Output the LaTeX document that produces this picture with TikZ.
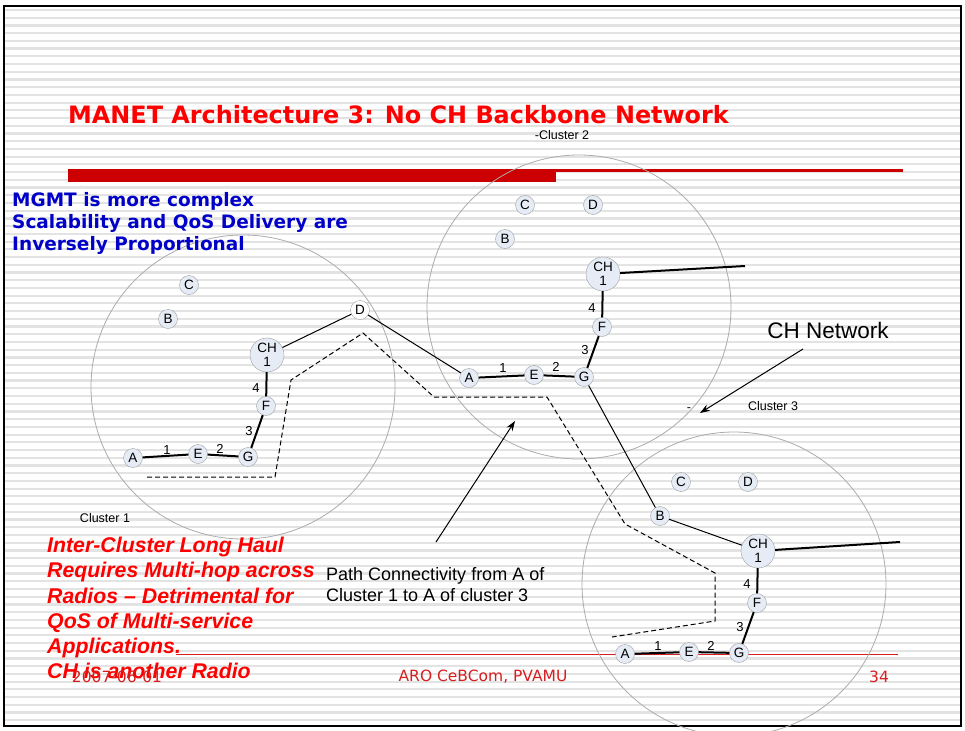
\documentclass[tikz,border=0pt]{standalone}
\usepackage{fontspec}
\setmainfont{Liberation Sans}
\newfontfamily\vfont{DejaVu Sans}
\usetikzlibrary{arrows.meta}

\definecolor{nodefill}{RGB}{230,236,246}
\definecolor{titlered}{RGB}{255,0,0}
\definecolor{barred}{RGB}{204,0,0}
\definecolor{footred}{RGB}{215,30,30}
\definecolor{mgmtblue}{RGB}{0,0,200}
\definecolor{stripe}{RGB}{227,227,227}

\tikzset{
  nd/.style={circle, draw=gray!75, fill=nodefill, inner sep=0pt, minimum size=19pt,
    font=\fontsize{13.5}{13.5}\selectfont},
  chnd/.style={nd, minimum size=34pt, align=center, font=\fontsize{13.5}{13.5}\selectfont},
  hopnum/.style={inner sep=0pt, font=\fontsize{13}{13}\selectfont},
  hop/.style={line width=2pt},
  lnk/.style={line width=1pt},
  clusline/.style={draw=gray!65, line width=0.8pt},
  small/.style={inner sep=0pt, font=\fontsize{12.5}{12.5}\selectfont},
}

\begin{document}
\begin{tikzpicture}[x=1pt, y=-1pt, >={Stealth[length=10pt, width=7pt]}]
  \useasboundingbox (0,0) rectangle (965,730);
  % --- slide background ---
  \fill[white] (0,0) rectangle (965,730);
  \foreach \s in {0,...,92}
    \draw[stripe, line width=2.2pt] (5,{10+7.72*\s}) -- (960,{10+7.72*\s});
  \draw[line width=2.5pt] (4,6) rectangle (961,726);

  % --- title and bars ---
  \node[anchor=west, inner sep=0pt, text=titlered, font=\vfont\bfseries\fontsize{23.9}{24}\selectfont]
    (title) at (68,115) {MANET Architecture 3: No CH Backbone Network};
  \fill[barred] (68,169) rectangle (556,182);
  \fill[barred] (556,169) rectangle (903,171.5);
  \node[small] (c2name) at (562,135) {-Cluster 2};

  % --- footer line ---
  \draw[footred, line width=1pt] (176,654) -- (898,654);

  % --- clusters ---
  \draw[clusline] (243,387) circle[radius=152pt];
  \draw[clusline] (579,307) circle[radius=152pt];
  \draw[clusline] (734,584) circle[radius=152pt];

  % cluster 1
  \node[nd] (a1) at (133,458) {A};
  \node[nd] (e1) at (198,454) {E};
  \node[nd] (g1) at (248,457) {G};
  \node[nd] (f1) at (266,406) {F};
  \node[chnd] (ch1) at (267,355) {CH\\1};
  \node[nd] (b1) at (168,319) {B};
  \node[nd] (c1) at (189,285) {C};
  \node[nd, fill=white] (d1) at (360,310) {D};
  \node[hopnum] (n1a) at (167,450) {1};
  \node[hopnum] (n1b) at (220,449) {2};
  \node[hopnum] (n1c) at (249,431) {3};
  \node[hopnum] (n1d) at (256,388) {4};

  % cluster 2
  \node[nd] (a2) at (469,378) {A};
  \node[nd] (e2) at (534,375) {E};
  \node[nd] (g2) at (584,377) {G};
  \node[nd] (f2) at (602,327) {F};
  \node[chnd] (ch2) at (603,274) {CH\\1};
  \node[nd] (b2) at (505,239) {B};
  \node[nd] (c2) at (525,205) {C};
  \node[nd] (d2) at (593,205) {D};
  \node[hopnum] (n2a) at (503,368) {1};
  \node[hopnum] (n2b) at (556,367) {2};
  \node[hopnum] (n2c) at (585,350) {3};
  \node[hopnum] (n2d) at (592,308) {4};
  \coordinate (ch2out) at (745,266);

  % cluster 3
  \node[nd] (a3) at (625,654) {A};
  \node[nd] (e3) at (689,652) {E};
  \node[nd] (g3) at (739,653) {G};
  \node[nd] (f3) at (757,603) {F};
  \node[chnd] (ch3) at (758,551) {CH\\1};
  \node[nd] (b3) at (660,516) {B};
  \node[nd] (c3) at (681,482) {C};
  \node[nd] (d3) at (748,482) {D};
  \node[hopnum] (n3a) at (658,646) {1};
  \node[hopnum] (n3b) at (711,646) {2};
  \node[hopnum] (n3c) at (740,627) {3};
  \node[hopnum] (n3d) at (747,584) {4};
  \coordinate (ch3out) at (900,542);

  % --- links ---
  \draw[hop] (a1) -- (e1) -- (g1) -- (f1) -- (ch1);
  \draw[hop] (a2) -- (e2) -- (g2) -- (f2) -- (ch2) -- (ch2out);
  \draw[hop] (a3) -- (e3) -- (g3) -- (f3) -- (ch3) -- (ch3out);
  \draw[lnk] (ch1) -- (d1) -- (a2);
  \draw[lnk] (g2) -- (b3) -- (ch3);

  % multi-hop route A (cluster 1) to A (cluster 3)
  \draw[dash pattern=on 5pt off 3pt, line width=1pt] (147,477) -- (275,477) -- (291,380) -- (363,333)
    -- (434,397) -- (547,397) -- (625,524) -- (715,573) -- (715,621) -- (612,637);

  % --- callouts ---
  \node[inner sep=0pt, font=\fontsize{22.5}{23}\selectfont] (chnet) at (828,330) {CH Network};
  \coordinate (chnetfrom) at (803,349);
  \coordinate (chnetto) at (700,413);
  \draw[->, line width=1pt] (chnetfrom) -- (chnetto);
  \node[small] (dash) at (689,410) {-};
  \node[small] (c3name) at (773,406) {Cluster 3};
  \node[small] (c1name) at (105,518) {Cluster 1};

  \node[anchor=north west, inner sep=0pt, align=left, font=\fontsize{18}{21}\selectfont]
    (pathnote) at (326,567) {Path Connectivity from A of\\Cluster 1 to A of cluster 3};
  \coordinate (pathfrom) at (436,542);
  \coordinate (pathto) at (515,421);
  \draw[->, line width=1pt] (pathfrom) -- (pathto);

  % --- side notes ---
  \node[anchor=north west, inner sep=0pt, align=left, text=mgmtblue,
    font=\vfont\bfseries\fontsize{18.5}{22}\selectfont] (mgmt) at (12,192)
    {MGMT is more complex\\Scalability and QoS Delivery are\\Inversely Proportional};
  \node[anchor=north west, inner sep=0pt, align=left, text=titlered,
    font=\bfseries\itshape\fontsize{21.3}{25.2}\selectfont] (haul) at (47,537)
    {Inter-Cluster Long Haul\\Requires Multi-hop across\\Radios -- Detrimental for\\QoS of Multi-service\\Applications.\\CH is another Radio};

  % --- footer ---
  \node[inner sep=0pt, text=footred, font=\vfont\fontsize{15.5}{16}\selectfont] (date) at (117,677) {2007-06-01};
  \node[inner sep=0pt, text=footred, font=\vfont\fontsize{15.5}{16}\selectfont] (org) at (483,677) {ARO CeBCom, PVAMU};
  \node[inner sep=0pt, text=footred, font=\vfont\fontsize{15.5}{16}\selectfont] (page) at (879,677) {34};
\end{tikzpicture}
\end{document}
